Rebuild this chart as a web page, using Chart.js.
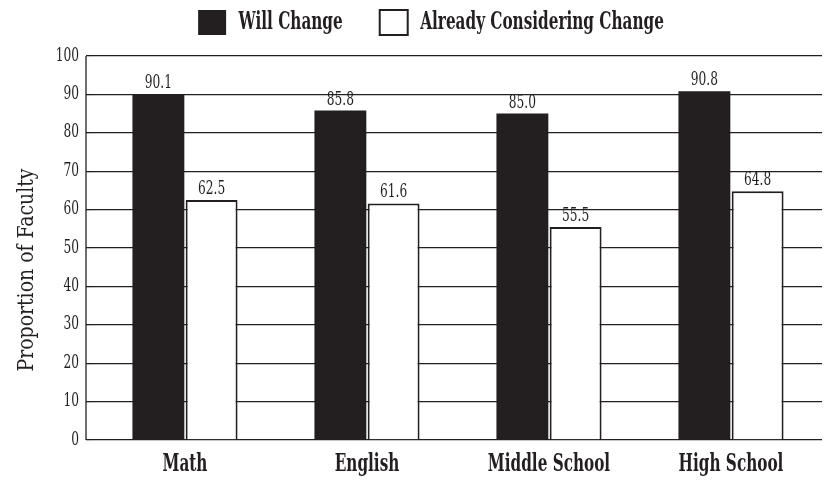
<!DOCTYPE html>
<html>
<head>
<meta charset="utf-8">
<script src="https://cdn.jsdelivr.net/npm/chart.js@4"></script>
<style>
  html, body { margin: 0; padding: 0; background: #ffffff; }
  #wrap { width: 833px; height: 481px; }
</style>
</head>
<body>
<div id="wrap"><canvas id="chart" width="833" height="481"></canvas></div>
<script>
const categories = ['Math', 'English', 'Middle School', 'High School'];
const willChange = [90.1, 85.8, 85.0, 90.8];
const alreadyConsidering = [62.5, 61.6, 55.5, 64.8];
const seriesNames = ['Will Change', 'Already Considering Change'];
const axisTitle = 'Proportion of Faculty';

const INK = '#231f20';
const FAMILY = '"DejaVu Serif", serif';

// The chart uses a tall, narrow serif face. DejaVu Serif is drawn squeezed
// horizontally to get that look: every fillText / measureText on this context
// is scaled along the text direction.
const canvas = document.getElementById('chart');
const ctx2d = canvas.getContext('2d');
let squeezeOverride = null;
function squeezeFor(c) {
  if (squeezeOverride !== null) return squeezeOverride;
  return /bold/.test(c.font) ? 0.61 : 0.68;
}
const nativeFill = ctx2d.fillText;
const nativeMeasure = ctx2d.measureText;
ctx2d.fillText = function (text, x, y, maxWidth) {
  const k = squeezeFor(this);
  this.save();
  this.translate(x, y);
  this.scale(k, 1);
  if (maxWidth === undefined) nativeFill.call(this, text, 0, 0);
  else nativeFill.call(this, text, 0, 0, maxWidth / k);
  this.restore();
};
ctx2d.measureText = function (text) {
  const k = squeezeFor(this);
  const m = nativeMeasure.call(this, text);
  return {
    width: m.width * k,
    actualBoundingBoxLeft: m.actualBoundingBoxLeft * k,
    actualBoundingBoxRight: m.actualBoundingBoxRight * k,
    actualBoundingBoxAscent: m.actualBoundingBoxAscent,
    actualBoundingBoxDescent: m.actualBoundingBoxDescent,
    fontBoundingBoxAscent: m.fontBoundingBoxAscent,
    fontBoundingBoxDescent: m.fontBoundingBoxDescent
  };
};

// Legend strip height, so the plot starts right below it.
const LEGEND_HEIGHT = 83;
const legendHeight = {
  id: 'legendHeight',
  beforeLayout(chart) {
    const legend = chart.legend;
    if (legend && !legend._fixedFit) {
      const fit = legend.fit;
      legend.fit = function () {
        fit.call(this);
        this.height = LEGEND_HEIGHT;
      };
      legend._fixedFit = true;
    }
  }
};

// Value labels above each bar, the vertical axis line set a little left of the
// plot, and the rotated axis title.
const decorations = {
  id: 'decorations',
  afterDatasetsDraw(chart) {
    const ctx = chart.ctx;
    ctx.save();
    ctx.fillStyle = INK;
    ctx.font = '18px ' + FAMILY;
    ctx.textAlign = 'center';
    ctx.textBaseline = 'alphabetic';
    chart.data.datasets.forEach((ds, i) => {
      chart.getDatasetMeta(i).data.forEach((bar, j) => {
        ctx.fillText(ds.data[j].toFixed(1), bar.x, bar.y - 6);
      });
    });
    const a = chart.chartArea;
    const y = chart.scales.y;
    ctx.strokeStyle = INK;
    ctx.lineWidth = 1.3;
    ctx.beginPath();
    ctx.moveTo(a.left - 8, y.getPixelForValue(100));
    ctx.lineTo(a.left - 8, y.getPixelForValue(0));
    ctx.stroke();

    ctx.translate(27, 270);
    ctx.rotate(-Math.PI / 2);
    ctx.font = '23px ' + FAMILY;
    ctx.textBaseline = 'middle';
    squeezeOverride = 0.82;
    ctx.fillText(axisTitle, 0, 0);
    squeezeOverride = null;
    ctx.restore();
  }
};

const PAD_LEFT = 40;

new Chart(canvas, {
  type: 'bar',
  data: {
    labels: categories,
    datasets: [
      {
        label: seriesNames[0],
        data: willChange,
        backgroundColor: INK,
        borderColor: INK,
        borderWidth: 0,
        categoryPercentage: 0.585,
        barPercentage: 0.975
      },
      {
        label: seriesNames[1],
        data: alreadyConsidering,
        backgroundColor: '#ffffff',
        borderColor: INK,
        borderWidth: 2,
        categoryPercentage: 0.585,
        barPercentage: 0.975
      }
    ]
  },
  options: {
    responsive: false,
    animation: false,
    layout: { padding: { top: -27, right: 11, bottom: 0, left: PAD_LEFT } },
    plugins: {
      legend: {
        position: 'top',
        labels: {
          color: INK,
          font: { family: FAMILY, size: 25, weight: 'bold' },
          boxWidth: 28,
          boxHeight: 25,
          padding: 37
        }
      },
      tooltip: { enabled: false }
    },
    scales: {
      x: {
        grid: { display: false },
        border: { display: false },
        ticks: {
          color: INK,
          font: { family: FAMILY, size: 25, weight: 'bold' },
          padding: 1
        },
        afterFit(scale) { scale.height = 41; }
      },
      y: {
        min: 0,
        max: 100,
        ticks: {
          stepSize: 10,
          color: INK,
          font: { family: FAMILY, size: 18 },
          padding: 7
        },
        grid: {
          color: INK,
          lineWidth: 1.3,
          drawTicks: true,
          tickLength: 8,
          tickColor: INK
        },
        border: { display: false },
        afterFit(scale) { scale.width = 94 - PAD_LEFT; }
      }
    }
  },
  plugins: [legendHeight, decorations]
});
</script>
</body>
</html>
